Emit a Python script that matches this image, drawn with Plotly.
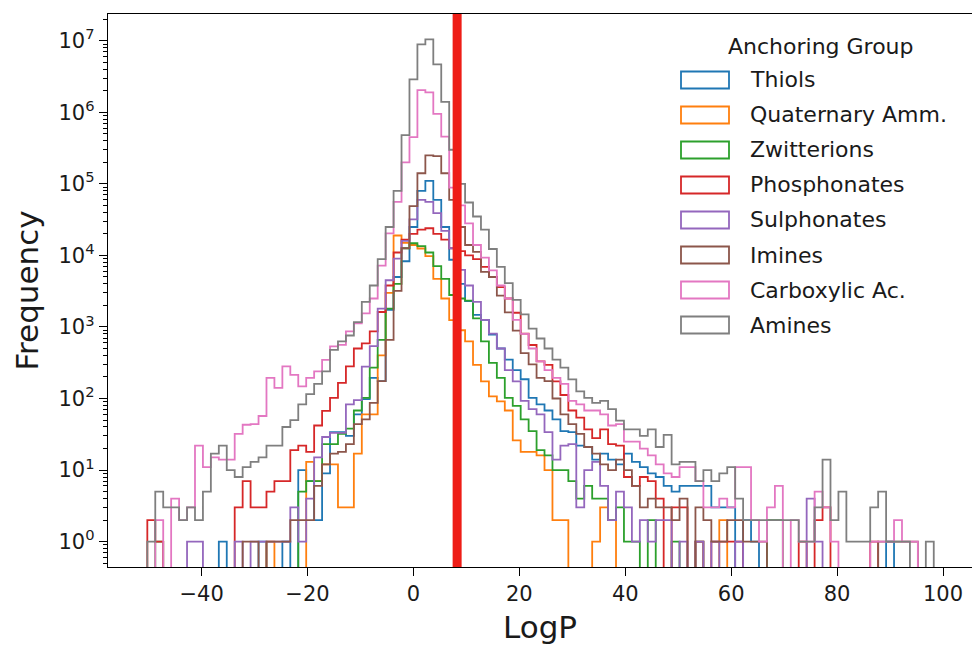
import plotly.graph_objects as go

# ---------------- data ----------------
BIN_START = -50.25      # left edge of first bin (LogP)
BIN_WIDTH = 1.5         # bin width (LogP)
THRESHOLD = 8.25        # red vertical marker (LogP)

series_names = ["Thiols", "Quaternary Amm.", "Zwitterions", "Phosphonates",
                "Sulphonates", "Imines", "Carboxylic Ac.", "Amines"]
series_colors = ["#1f77b4", "#ff7f0e", "#2ca02c", "#d62728",
                 "#9467bd", "#8c564b", "#e377c2", "#7f7f7f"]

thiols = [
    0, 0, 0, 0, 0, 0, 0, 0, 0, 1,
    0, 0, 0, 0, 1, 0, 0, 1, 0, 10,
    7, 2, 9, 34, 34, 30, 60, 98, 195, 175,
    1740, 5000, 8300, 25000, 80000, 110000, 60000, 25000, 8700, 4000,
    2300, 1480, 1260, 780, 500, 350, 250, 186, 102, 83,
    68, 51, 35, 34, 22, 21, 14, 17, 14, 12,
    17, 13, 11, 9, 8, 6, 5, 6, 6, 6,
    6, 3, 3, 3, 0, 2, 1, 0, 0, 0,
    0, 0, 0, 0, 0, 0, 0, 0, 0, 0,
    0, 0, 0, 1, 0, 0, 0, 0, 0]

quaternary = [
    0, 0, 0, 0, 0, 0, 0, 0, 0, 0,
    0, 0, 0, 0, 0, 1, 0, 0, 0, 0,
    13, 7, 12, 12, 3, 3, 17, 60, 60, 400,
    3000, 19000, 15000, 14000, 12500, 9800, 4700, 2500, 1250, 900,
    630, 295, 174, 107, 91, 68, 26, 18, 18, 16,
    10, 2, 2, 0, 0, 0, 1, 3, 2, 0,
    0, 0, 0, 0, 0, 0, 0, 0, 0, 0,
    0, 0, 2, 0, 0, 0, 0, 0, 0, 0,
    0, 0, 0, 0, 0, 0, 0, 0, 0, 0,
    0, 0, 0, 0, 0, 0, 0, 0, 0]

zwitterions = [
    0, 1, 0, 0, 0, 0, 0, 0, 0, 0,
    0, 0, 0, 0, 0, 0, 0, 0, 0, 5,
    7, 7, 23, 23, 32, 38, 68, 102, 270, 660,
    1800, 4000, 12600, 14800, 13500, 11000, 7100, 4700, 2800, 2500,
    2340, 1320, 630, 316, 195, 102, 79, 51, 35, 19,
    16, 10, 10, 7, 4, 6, 4, 4, 2, 3,
    1, 1, 0, 2, 0, 0, 1, 0, 0, 1,
    0, 0, 0, 0, 0, 0, 0, 0, 2, 2,
    0, 0, 0, 0, 0, 0, 0, 0, 0, 0,
    0, 0, 0, 0, 0, 0, 0, 0, 0]

phosphonates = [
    2, 1, 0, 0, 0, 0, 0, 0, 0, 0,
    0, 3, 7, 3, 3, 5, 7, 7, 19, 22,
    18, 42, 67, 102, 166, 282, 500, 590, 870, 1620,
    3800, 11000, 16600, 20000, 23000, 24000, 20000, 16600, 12600, 11500,
    10000, 8900, 6900, 5000, 3600, 2500, 1580, 810, 560, 330,
    295, 174, 112, 68, 54, 37, 28, 37, 23, 22,
    8, 6, 8, 7, 4, 0, 3, 3, 0, 1,
    0, 1, 1, 1, 1, 0, 0, 0, 0, 0,
    0, 0, 1, 0, 2, 3, 0, 0, 0, 0,
    0, 1, 0, 0, 0, 0, 0, 0, 0]

sulphonates = [
    0, 0, 0, 0, 0, 1, 1, 0, 0, 0,
    0, 1, 0, 1, 1, 1, 1, 1, 3, 1,
    4, 15, 29, 33, 33, 83, 95, 280, 540, 1800,
    4500, 9000, 16000, 32000, 60000, 56000, 39000, 22000, 12600, 6300,
    3800, 2240, 1260, 810, 500, 250, 174, 93, 71, 60,
    34, 14, 22, 23, 3, 10, 13, 6, 2, 5,
    3, 1, 2, 1, 2, 2, 0, 1, 0, 1,
    0, 1, 0, 0, 1, 0, 0, 0, 0, 0,
    0, 0, 0, 4, 1, 0, 0, 0, 0, 0,
    0, 0, 0, 0, 0, 0, 0, 0, 0]

imines = [
    0, 0, 0, 0, 0, 0, 0, 0, 0, 0,
    0, 0, 1, 1, 0, 1, 1, 1, 2, 2,
    2, 6, 12, 17, 18, 23, 44, 51, 87, 175,
    660, 3200, 12600, 49000, 141000, 250000, 245000, 141000, 60000, 25000,
    14000, 11200, 5900, 5000, 2750, 1600, 890, 430, 300, 195,
    175, 100, 60, 44, 32, 21, 17, 12, 10, 14,
    10, 6, 3, 4, 3, 3, 2, 4, 0, 3,
    2, 1, 1, 2, 2, 1, 1, 1, 0, 0,
    0, 0, 0, 0, 0, 0, 0, 0, 0, 0,
    0, 0, 1, 1, 1, 1, 1, 0, 0]

carboxylic = [
    0, 2, 0, 4, 2, 3, 22, 11, 15, 14,
    14, 32, 43, 44, 57, 195, 141, 282, 214, 148,
    195, 240, 347, 537, 562, 870, 1120, 1550, 2500, 7200,
    20400, 56000, 200000, 450000, 2040000, 1900000, 950000, 457000, 89000, 50000,
    28000, 14000, 9300, 6200, 3800, 2500, 1260, 800, 500, 330,
    250, 195, 160, 93, 83, 68, 68, 60, 42, 44,
    25, 25, 20, 16, 12, 9, 8, 11, 11, 7,
    3, 3, 4, 3, 11, 11, 2, 1, 3, 6,
    0, 2, 1, 1, 5, 3, 1, 0, 0, 0,
    0, 1, 1, 1, 2, 1, 1, 0, 0]

amines = [
    1, 5, 3, 3, 2, 3, 2, 5, 17, 22,
    10, 8, 11, 13, 15, 22, 22, 40, 50, 83,
    115, 160, 240, 480, 630, 760, 1170, 2240, 3800, 8900,
    25000, 80000, 480000, 2900000, 8900000, 10500000, 4700000, 1400000, 300000, 100000,
    55000, 35000, 23000, 12300, 6900, 4100, 2400, 1500, 950, 690,
    500, 350, 270, 185, 126, 102, 87, 93, 71, 49,
    37, 37, 30, 37, 21, 31, 12, 13, 13, 7,
    10, 7, 9, 11, 4, 2, 2, 2, 2, 2,
    2, 2, 1, 1, 3, 14, 2, 5, 1, 1,
    1, 3, 5, 1, 1, 1, 0, 0, 1]

series_counts = [thiols, quaternary, zwitterions, phosphonates,
                 sulphonates, imines, carboxylic, amines]

x_tick_vals = [-40, -20, 0, 20, 40, 60, 80, 100]
y_tick_vals = [1e0, 1e1, 1e2, 1e3, 1e4, 1e5, 1e6, 1e7]
y_tick_text = ["10<sup>0</sup>", "10<sup>1</sup>", "10<sup>2</sup>", "10<sup>3</sup>",
               "10<sup>4</sup>", "10<sup>5</sup>", "10<sup>6</sup>", "10<sup>7</sup>"]
legend_title = "Anchoring Group"

# ---------------- figure ----------------
FONT = "DejaVu Sans"
TXT = "#1a1a1a"
FLOOR = 1e-3  # empty bins drop below the visible axis (like matplotlib's clipped step)

n_bins = len(amines)
edges = [BIN_START + BIN_WIDTH * k for k in range(n_bins + 1)]

fig = go.Figure()
for name, counts, color in zip(series_names, series_counts, series_colors):
    xs = [edges[0]] + edges[:n_bins] + [edges[n_bins]]
    ys = [FLOOR] + [c if c > 0 else FLOOR for c in counts] + [FLOOR]
    fig.add_trace(go.Scatter(
        x=xs, y=ys, mode="lines", name=name, showlegend=False,
        line=dict(color=color, width=1.8, shape="hv"),
        hoverinfo="skip"))

# red threshold line
fig.add_shape(type="line", xref="x", yref="paper", x0=THRESHOLD, x1=THRESHOLD,
              y0=0, y1=1, line=dict(color="#ee1d17", width=9), layer="above")

# minor ticks on log axis
minor_vals = [m * 10 ** e for e in range(-1, 8) for m in range(2, 10)]

W, H = 972, 645
ML, MR, MT, MB = 108, 0, 14, 78

fig.update_layout(
    width=W, height=H,
    margin=dict(l=ML, r=MR, t=MT, b=MB, pad=0, autoexpand=False),
    paper_bgcolor="white", plot_bgcolor="white",
    font=dict(family=FONT, color=TXT),
    showlegend=False,
    xaxis=dict(
        range=[-57.675, 105.47], showgrid=False, zeroline=False, automargin=False,
        showline=True, linecolor="black", linewidth=1.4, mirror=True,
        ticks="outside", ticklen=8, tickwidth=1.4, tickcolor="black",
        tickmode="array", tickvals=x_tick_vals,
        tickfont=dict(family=FONT, size=21, color=TXT),
        title=dict(text="LogP", font=dict(family=FONT, size=31, color=TXT), standoff=13),
    ),
    yaxis=dict(
        type="log", range=[-0.355, 7.375], showgrid=False, zeroline=False, automargin=False,
        showline=True, linecolor="black", linewidth=1.4, mirror=True,
        ticks="outside", ticklen=8, tickwidth=1.4, tickcolor="black",
        tickmode="array", tickvals=y_tick_vals, ticktext=y_tick_text,
        tickfont=dict(family=FONT, size=21, color=TXT),
        minor=dict(tickmode="array", tickvals=minor_vals, ticks="outside",
                   ticklen=4, tickwidth=1, tickcolor="black", showgrid=False),
        title=dict(text="Frequency", font=dict(family=FONT, size=31, color=TXT), standoff=10),
    ),
)

# manual legend (matplotlib-style outlined rectangles)
plot_w = W - ML - MR
plot_h = H - MT - MB
def px_x(px):
    return (px - ML) / plot_w
def px_y(py):
    return (H - MB - py) / plot_h

fig.add_annotation(x=px_x(821), y=px_y(46), xref="paper", yref="paper",
                   text=legend_title, showarrow=False, xanchor="center", yanchor="middle",
                   font=dict(family=FONT, size=22, color=TXT))
for i, (name, color) in enumerate(zip(series_names, series_colors)):
    cy = 80 + 35 * i
    fig.add_shape(type="rect", xref="paper", yref="paper",
                  x0=px_x(681), x1=px_x(729), y0=px_y(cy + 8.5), y1=px_y(cy - 8.5),
                  line=dict(color=color, width=1.8), fillcolor="rgba(0,0,0,0)")
    fig.add_annotation(x=px_x(748), y=px_y(cy), xref="paper", yref="paper",
                       text=name, showarrow=False, xanchor="left", yanchor="middle",
                       font=dict(family=FONT, size=22, color=TXT))

# remove the default 8px page margin so the figure sits at the window origin
fig.write_html("out.html",
               config={"displayModeBar": False},
               post_script="document.body.style.margin='0';document.body.style.overflow='hidden';")
